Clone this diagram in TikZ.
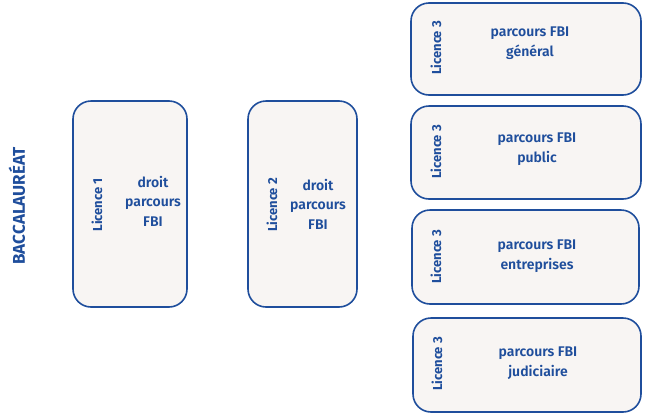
\documentclass[tikz,border=0pt]{standalone}
\usepackage{fontspec}
\setmainfont{Fira Sans}[UprightFont={* SemiBold},BoldFont={* Bold}]
\definecolor{fbiblue}{HTML}{1F4E9C}
\definecolor{fbifill}{HTML}{F8F5F3}
\begin{document}
\begin{tikzpicture}[x=1pt,y=-1pt,
  card/.style={draw=fbiblue,fill=fbifill,line width=1.6pt,rounded corners=18pt},
  lic/.style={text=fbiblue,rotate=90,font=\fontsize{13}{15}\selectfont\bfseries},
  body/.style={text=fbiblue,align=center,font=\fontsize{14}{19.5}\selectfont}]
\useasboundingbox (0,0) rectangle (650,418);
\draw[card] (73,101) rectangle (187,307);
\draw[card] (248,101) rectangle (357,307);
\draw[card] (411,3) rectangle (641,95);
\draw[card] (411,106) rectangle (641,199);
\draw[card] (412,210) rectangle (639,304);
\draw[card] (413,318) rectangle (641,412);
\node[text=fbiblue,rotate=90,font=\fontsize{17}{19}\selectfont\bfseries] (bac) at (17,206) {BACCALAURÉAT};
\node[lic] (l1) at (97,205) {Licence 1};
\node[body] (t1) at (153,201) {droit\\parcours\\FBI};
\node[lic] (l2) at (272,205) {Licence 2};
\node[body] (t2) at (318,204) {droit\\parcours\\FBI};
\node[lic] (l3a) at (436,48) {Licence 3};
\node[body] (t3a) at (530,43) {parcours FBI\\général};
\node[lic] (l3b) at (436,152) {Licence 3};
\node[body] (t3b) at (537,149) {parcours FBI\\public};
\node[lic] (l3c) at (436,257) {Licence 3};
\node[body] (t3c) at (537,256) {parcours FBI\\entreprises};
\node[lic] (l3d) at (437,364) {Licence 3};
\node[body] (t3d) at (538,363) {parcours FBI\\judiciaire};
\end{tikzpicture}
\end{document}
